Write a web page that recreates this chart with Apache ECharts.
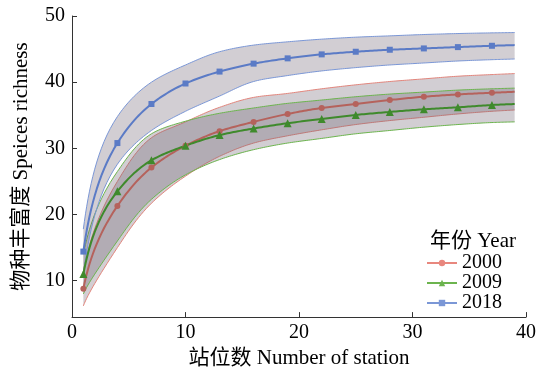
<!DOCTYPE html>
<html>
<head>
<meta charset="utf-8">
<script src="https://cdn.jsdelivr.net/npm/echarts@6/dist/echarts.min.js"></script>
<style>html,body{margin:0;padding:0;background:#fff}#c{width:539px;height:374px}</style>
</head>
<body>
<div id="c"></div>
<script>
const stations = [1, 4, 7, 10, 13, 16, 19, 22, 25, 28, 31, 34, 37, 39];
const yearNames = ['2000', '2009', '2018'];
const mean2000  = [8.8, 21.3, 27.1, 30.4, 32.6, 34.0, 35.2, 36.1, 36.7, 37.3, 37.8, 38.15, 38.4, 38.55];
const upper2000 = [11.4, 25.0, 31.6, 34.0, 36.2, 37.7, 38.3, 39.0, 39.6, 40.1, 40.5, 40.9, 41.15, 41.3];
const lower2000 = [6.2, 15.0, 21.7, 25.8, 28.8, 30.8, 31.9, 32.8, 33.6, 34.2, 34.7, 35.2, 35.6, 35.8];
const mean2009  = [11.0, 23.5, 28.2, 30.4, 32.0, 33.0, 33.8, 34.44, 35.05, 35.5, 35.9, 36.2, 36.55, 36.7];
const upper2009 = [14.0, 26.5, 32.2, 34.1, 35.3, 36.1, 36.8, 37.3, 37.8, 38.2, 38.5, 38.8, 39.0, 39.1];
const lower2009 = [8.0, 16.0, 22.3, 26.0, 28.3, 29.8, 30.8, 31.5, 32.2, 32.7, 33.2, 33.6, 33.9, 34.0];
const mean2018  = [14.4, 30.8, 36.7, 39.8, 41.6, 42.8, 43.6, 44.2, 44.6, 44.9, 45.1, 45.3, 45.5, 45.6];
const upper2018 = [17.8, 34.8, 40.0, 42.6, 44.6, 45.6, 46.1, 46.5, 46.8, 47.0, 47.2, 47.35, 47.45, 47.5];
const lower2018 = [11.0, 27.6, 32.7, 35.6, 37.9, 40.1, 41.0, 41.7, 42.2, 42.6, 42.9, 43.2, 43.4, 43.5];
const xTicks = [0, 10, 20, 30, 40];
const yTicks = [10, 20, 30, 40, 50];

const FONT = "'Liberation Serif', 'Noto Sans CJK SC', serif";
const styles = [
  {edge: '#e2857c', mean: '#b5625c', legend: '#e8877e', symbol: 'circle', size: 6},
  {edge: '#6cb44e', mean: '#3f8a2c', legend: '#6cb44e', symbol: 'triangle', size: 8},
  {edge: '#7b97d6', mean: '#5b7bc6', legend: '#7b97d6', symbol: 'rect', size: 6}
];
const means = [mean2000, mean2009, mean2018];
const uppers = [upper2000, upper2009, upper2018];
const lowers = [lower2000, lower2009, lower2018];

// Smooth curve drawing: cubic Hermite through the read points, in log-x space
// (rarefaction-curve shape), rendered through the chart's coordinate system.
function curvePixels(xs, ys, api) {
  const n = xs.length, u = xs.map(Math.log), d = [], m = [];
  for (let i = 0; i < n - 1; i++) d.push((ys[i+1] - ys[i]) / (u[i+1] - u[i]));
  for (let i = 1; i < n - 1; i++) {
    const h0 = u[i] - u[i-1], h1 = u[i+1] - u[i];
    m[i] = (d[i-1] * h1 + d[i] * h0) / (h0 + h1);
  }
  m[0] = (3 * d[0] - m[1]) / 2;
  m[n-1] = (3 * d[n-2] - m[n-2]) / 2;
  const out = [api.coord([xs[0], ys[0]])];
  const STEPS = 16;
  for (let i = 0; i < n - 1; i++) {
    const h = u[i+1] - u[i];
    for (let s = 1; s <= STEPS; s++) {
      const t = s / STEPS, t2 = t*t, t3 = t2*t;
      const y = (2*t3 - 3*t2 + 1) * ys[i] + (t3 - 2*t2 + t) * h * m[i]
              + (-2*t3 + 3*t2) * ys[i+1] + (t3 - t2) * h * m[i+1];
      out.push(api.coord([Math.exp(u[i] + t*h), y]));
    }
  }
  return out;
}
const P = p => p[0].toFixed(2) + ' ' + p[1].toFixed(2);
const lineOf = pts => 'M' + pts.map(P).join(' L');

const series = [];
yearNames.forEach((nm, k) => {
  const st = styles[k];
  series.push({
    name: 'band' + nm, type: 'custom', silent: true, z: 1,
    data: stations.map((x, i) => [x, lowers[k][i], uppers[k][i]]),
    renderItem: function (params, api) {
      if (params.dataIndex !== 0) return null;
      const up = curvePixels(stations, uppers[k], api);
      const lo = curvePixels(stations, lowers[k], api);
      const fill = lineOf(up) + ' L' + lo.slice().reverse().map(P).join(' L') + ' Z';
      return {
        type: 'group',
        children: [
          {type: 'path', shape: {pathData: fill}, style: {fill: 'rgba(105,92,108,0.3)', stroke: null}},
          {type: 'path', shape: {pathData: lineOf(up)}, style: {fill: null, stroke: st.edge, lineWidth: 1}},
          {type: 'path', shape: {pathData: lineOf(lo)}, style: {fill: null, stroke: st.edge, lineWidth: 1}}
        ]
      };
    }
  });
});
yearNames.forEach((nm, k) => {
  const st = styles[k];
  series.push({
    name: 'curve' + nm, type: 'custom', silent: true, z: 3,
    data: stations.map((x, i) => [x, means[k][i]]),
    renderItem: function (params, api) {
      if (params.dataIndex !== 0) return null;
      const pts = curvePixels(stations, means[k], api);
      return {type: 'path', shape: {pathData: lineOf(pts)}, style: {fill: null, stroke: st.mean, lineWidth: 2, lineJoin: 'round'}};
    }
  });
});
yearNames.forEach((nm, k) => {
  const st = styles[k];
  series.push({
    name: nm, type: 'line', z: 4,
    symbol: st.symbol, symbolSize: st.size, showSymbol: true,
    lineStyle: {color: st.mean, width: 0, opacity: 0},
    itemStyle: {color: st.mean},
    data: stations.map((x, i) => i === stations.length - 1
      ? {value: [x, means[k][i]], symbol: 'none'}
      : [x, means[k][i]])
  });
});

const chart = echarts.init(document.getElementById('c'), null, {renderer: 'canvas'});
chart.setOption({
  animation: false,
  backgroundColor: '#fff',
  textStyle: {fontFamily: FONT},
  grid: {left: 72, right: 12, top: 16, bottom: 56, containLabel: false},
  title: {
    text: '年份 Year', left: 425, top: 226,
    textStyle: {fontFamily: FONT, fontSize: 21, fontWeight: 'normal', color: '#000'}
  },
  legend: {
    orient: 'vertical', left: 421, top: 248, itemWidth: 30, itemHeight: 8, itemGap: 0,
    textStyle: {fontFamily: FONT, fontSize: 20, lineHeight: 19, color: '#000'},
    data: yearNames.map((nm, k) => ({
      name: nm,
      itemStyle: {color: styles[k].legend},
      lineStyle: {color: styles[k].legend, width: 2, opacity: 1}
    }))
  },
  xAxis: {
    type: 'value', min: 0, max: 40, interval: 10,
    name: '站位数 Number of station', nameLocation: 'middle', nameGap: 18,
    nameTextStyle: {fontFamily: FONT, fontSize: 21, color: '#000'},
    axisLine: {show: true, lineStyle: {color: '#333', width: 1}},
    axisTick: {show: true, inside: true, length: 5, lineStyle: {color: '#333'}},
    axisLabel: {fontFamily: FONT, fontSize: 20, color: '#000', margin: 6, customValues: xTicks},
    splitLine: {show: false}
  },
  yAxis: {
    type: 'value', min: 4.5, max: 50,
    name: '物种丰富度 Speices richness', nameLocation: 'middle', nameGap: 40, nameRotate: 90,
    nameTextStyle: {fontFamily: FONT, fontSize: 21, color: '#000'},
    axisLine: {show: true, lineStyle: {color: '#333', width: 1}},
    axisTick: {show: true, inside: true, length: 5, lineStyle: {color: '#333'}, customValues: yTicks},
    axisLabel: {fontFamily: FONT, fontSize: 20, color: '#000', margin: 7, customValues: yTicks},
    splitLine: {show: false}
  },
  series: series
});
</script>
</body>
</html>
